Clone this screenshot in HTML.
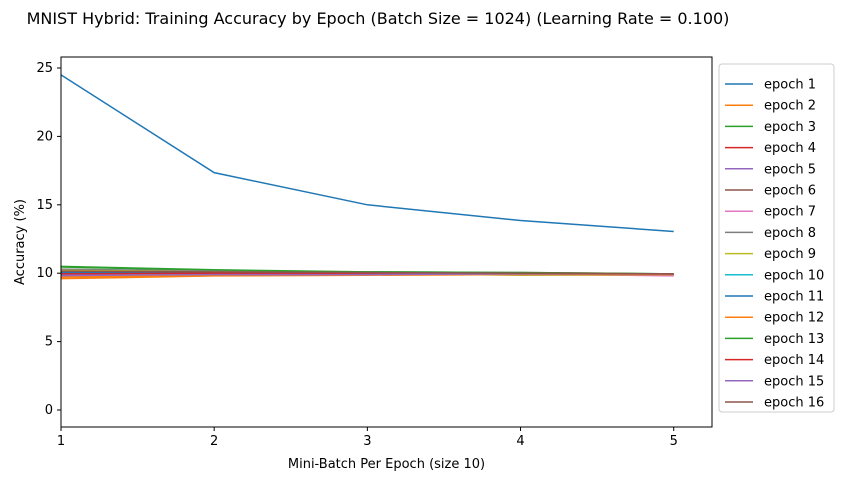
<!DOCTYPE html>
<html><head><meta charset="utf-8"><style>
body{margin:0;background:#fff;font-family:"Liberation Sans","DejaVu Sans",sans-serif;}
svg text{font-family:"DejaVu Sans","Liberation Sans",sans-serif;}
</style></head><body>
<svg id="chart" width="843" height="480" xmlns="http://www.w3.org/2000/svg">
<rect width="843" height="480" fill="#fff"/>
<text x="378" y="24" text-anchor="middle" font-size="16">MNIST Hybrid: Training Accuracy by Epoch (Batch Size = 1024) (Learning Rate = 0.100)</text>
<g id="lines"></g>
<g id="axes"></g>
<g id="legend"></g>
</svg>
<script>
const batches=[1,2,3,4,5];
const epochNames=["epoch 1","epoch 2","epoch 3","epoch 4","epoch 5","epoch 6","epoch 7","epoch 8","epoch 9","epoch 10","epoch 11","epoch 12","epoch 13","epoch 14","epoch 15","epoch 16"];
const accuracy=[
[24.5,17.35,15.0,13.85,13.05],
[9.6,9.8,9.85,9.9,9.85],
[10.45,10.2,10.05,10.0,9.95],
[10.0,10.05,10.0,9.95,9.95],
[9.8,9.85,9.9,9.95,9.9],
[10.1,10.0,9.95,10.0,9.95],
[9.9,9.9,9.9,9.95,9.8],
[10.3,10.15,10.1,10.05,9.95],
[10.2,10.1,10.0,9.85,9.9],
[10.1,10.0,9.95,9.9,9.9],
[10.05,10.05,9.95,9.95,9.95],
[9.7,9.85,9.9,9.9,9.9],
[10.5,10.25,10.1,10.05,9.95],
[9.95,10.0,9.95,10.0,9.95],
[9.85,9.9,9.9,9.95,9.95],
[10.15,10.1,10.05,10.0,9.95]
];
const yTicks=[0,5,10,15,20,25];
const xTicks=[1,2,3,4,5];
const colors=["#1f77b4","#ff7f0e","#2ca02c","#d62728","#9467bd","#8c564b","#e377c2","#7f7f7f","#bcbd22","#17becf"];
const L=61,R=712,T=57,B=427;
const X=v=>L+(v-1)/(5.25-1)*(R-L);
const Y=v=>410-v*13.68;
const NS="http://www.w3.org/2000/svg";
function mk(t,a,p){const e=document.createElementNS(NS,t);for(const k in a)e.setAttribute(k,a[k]);p.appendChild(e);return e;}
const lines=document.getElementById('lines'),axes=document.getElementById('axes'),leg=document.getElementById('legend');
accuracy.forEach((s,i)=>{
 const p=mk('polyline',{points:s.map((v,j)=>X(batches[j])+','+Y(v)).join(' '),fill:'none',stroke:colors[i%10],'stroke-width':1.5},lines);
 
 
});
const fr=mk('rect',{x:L,y:T,width:R-L,height:B-T,fill:'none',stroke:'#000','stroke-width':1},axes);


yTicks.forEach(v=>{
 mk('line',{x1:L-4,x2:L,y1:Y(v),y2:Y(v),stroke:'#000'},axes);
 const t=mk('text',{x:L-8,y:Y(v)+4,'text-anchor':'end','font-size':13},axes);t.textContent=v;
 
 
});
xTicks.forEach(v=>{
 mk('line',{x1:X(v),x2:X(v),y1:B,y2:B+4,stroke:'#000'},axes);
 const t=mk('text',{x:X(v),y:B+18,'text-anchor':'middle','font-size':13},axes);t.textContent=v;
 
 
});
const xt=mk('text',{x:(L+R)/2,y:468,'text-anchor':'middle','font-size':13},axes);xt.textContent='Mini-Batch Per Epoch (size 10)';


const yt=mk('text',{x:24,y:(T+B)/2,'text-anchor':'middle','font-size':13,transform:'rotate(-90 24 '+((T+B)/2)+')'},axes);yt.textContent='Accuracy (%)';


const lb=mk('rect',{x:719,y:64,width:115,height:348,rx:3,fill:'#fff',stroke:'#ccc'},leg);


epochNames.forEach((n,i)=>{
 const y=84+i*21.2;
 const g=mk('g',{},leg);
 
 
 mk('line',{x1:725,x2:753,y1:y,y2:y,stroke:colors[i%10],'stroke-width':1.5},g);
 const t=mk('text',{x:764,y:y+4.5,'font-size':13},g);t.textContent=n;
});
</script>
</body></html>
